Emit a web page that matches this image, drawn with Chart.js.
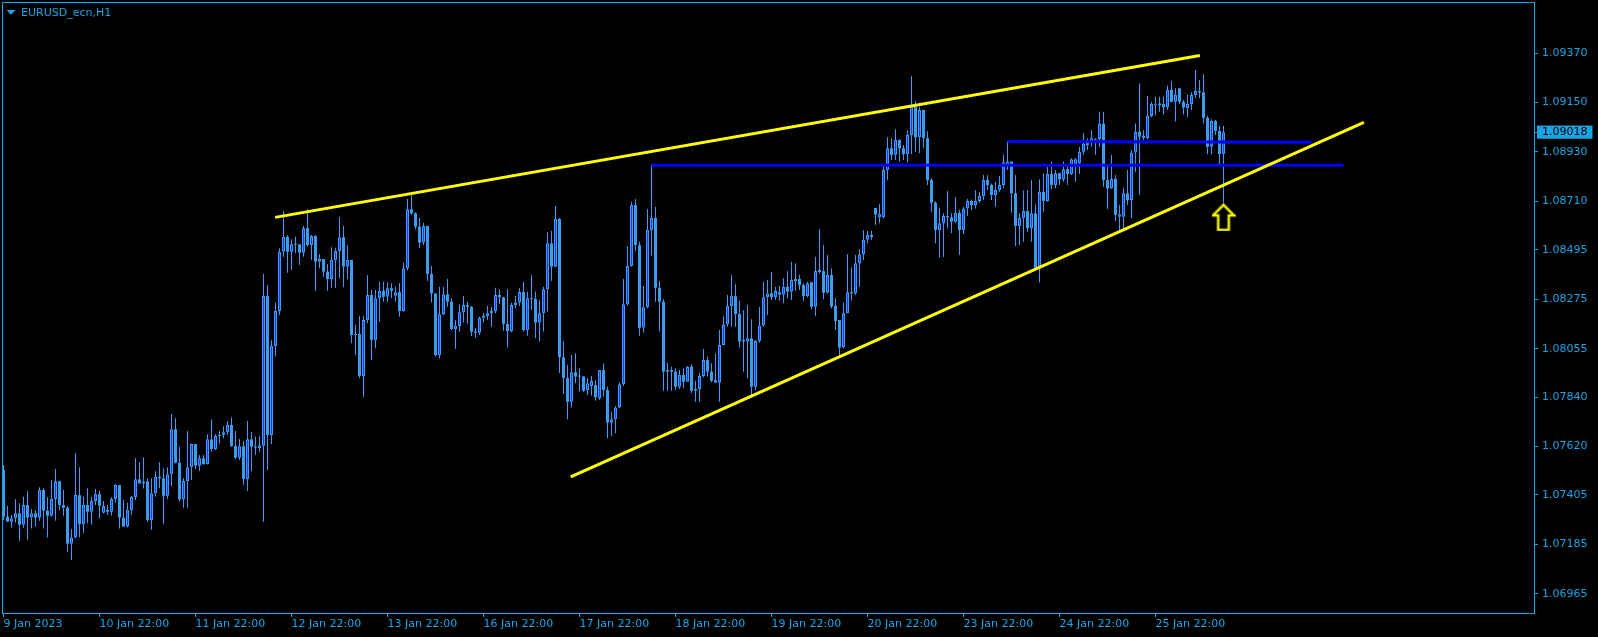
<!DOCTYPE html>
<html><head><meta charset="utf-8">
<style>
html,body{margin:0;padding:0;background:#000;overflow:hidden;}
#wrap{position:relative;width:1598px;height:637px;background:#000;}
</style>
<script src="https://cdn.jsdelivr.net/npm/chart.js@4/dist/chart.umd.min.js"></script>
</head><body>
<div id="wrap"><canvas id="c"></canvas></div>
<script>
// ---- DATA (EURUSD_ecn H1) ----
const open = [1.07516,1.07308,1.07286,1.07301,1.07323,1.07272,1.07360,1.07304,1.07323,1.07304,
1.07427,1.07335,1.07312,1.07387,1.07466,1.07360,1.07348,1.07188,1.07216,1.07404,
1.07274,1.07360,1.07330,1.07378,1.07408,1.07326,1.07338,1.07330,1.07387,1.07449,
1.07304,1.07264,1.07338,1.07395,1.07474,1.07456,1.07465,1.07293,1.07412,1.07486,
1.07479,1.07401,1.07497,1.07697,1.07548,1.07385,1.07467,1.07528,1.07631,1.07535,
1.07568,1.07541,1.07652,1.07609,1.07667,1.07671,1.07683,1.07716,1.07622,1.07570,
1.07621,1.07476,1.07652,1.07619,1.07613,1.07624,1.08289,1.07671,1.08067,1.08223,
1.08486,1.08552,1.08486,1.08519,1.08519,1.08482,1.08591,1.08516,1.08556,1.08442,
1.08454,1.08398,1.08365,1.08450,1.08490,1.08551,1.08420,1.08450,1.08116,1.08121,
1.07934,1.08183,1.08294,1.08094,1.08279,1.08312,1.08286,1.08324,1.08291,1.08306,
1.08223,1.08413,1.08675,1.08657,1.08598,1.08527,1.08601,1.08387,1.08301,1.08027,
1.08208,1.08297,1.08264,1.08143,1.08156,1.08217,1.08249,1.08242,1.08131,1.08126,
1.08193,1.08200,1.08213,1.08223,1.08294,1.08284,1.08165,1.08134,1.08249,1.08260,
1.08307,1.08138,1.08279,1.08276,1.08171,1.08213,1.08319,1.08524,1.08420,1.08632,
1.08017,1.07924,1.07819,1.07950,1.07934,1.07931,1.07871,1.07889,1.07893,1.07834,
1.07960,1.07871,1.07726,1.07741,1.07794,1.07897,1.08253,1.08423,1.08694,1.08516,
1.08148,1.08239,1.08583,1.08636,1.08326,1.08264,1.07953,1.07953,1.07953,1.07886,
1.07938,1.07908,1.07975,1.07868,1.07876,1.07934,1.08005,1.07953,1.07904,1.07904,
1.08072,1.08164,1.08245,1.08289,1.08209,1.08094,1.08087,1.08101,1.07886,1.08089,
1.08158,1.08284,1.08301,1.08284,1.08306,1.08295,1.08331,1.08309,1.08356,1.08365,
1.08338,1.08289,1.08350,1.08242,1.08405,1.08400,1.08304,1.08383,1.08245,1.08183,
1.08060,1.08213,1.08306,1.08301,1.08435,1.08475,1.08539,1.08561,1.08681,1.08639,
1.08639,1.08850,1.08946,1.08917,1.08983,1.08946,1.08920,1.09005,1.09131,1.08995,
1.09117,1.08991,1.08805,1.08704,1.08583,1.08613,1.08645,1.08639,1.08620,1.08660,
1.08583,1.08679,1.08712,1.08694,1.08712,1.08734,1.08805,1.08783,1.08739,1.08761,
1.08783,1.08872,1.08887,1.08746,1.08601,1.08636,1.08667,1.08591,1.08657,1.08413,
1.08753,1.08712,1.08832,1.08783,1.08835,1.08808,1.08853,1.08832,1.08872,1.08880,
1.08931,1.08973,1.08973,1.08973,1.08987,1.09056,1.08805,1.08768,1.08810,1.08642,
1.08642,1.08746,1.08716,1.08928,1.09020,1.08991,1.08991,1.09090,1.09136,1.09136,
1.09143,1.09129,1.09206,1.09153,1.09213,1.09153,1.09124,1.09143,1.09183,1.09201,
1.09195,1.09082,1.08953,1.09068,1.09023,1.08921];
const high = [1.07538,1.07356,1.07316,1.07387,1.07368,1.07397,1.07422,1.07341,1.07338,1.07439,
1.07434,1.07394,1.07471,1.07520,1.07466,1.07427,1.07356,1.07253,1.07591,1.07528,
1.07397,1.07434,1.07397,1.07431,1.07424,1.07378,1.07360,1.07394,1.07453,1.07449,
1.07382,1.07370,1.07400,1.07568,1.07551,1.07572,1.07479,1.07479,1.07511,1.07550,
1.07523,1.07528,1.07765,1.07746,1.07619,1.07479,1.07689,1.07634,1.07631,1.07582,
1.07582,1.07675,1.07741,1.07675,1.07689,1.07710,1.07734,1.07750,1.07689,1.07654,
1.07645,1.07734,1.07686,1.07664,1.07667,1.08387,1.08338,1.08094,1.08260,1.08502,
1.08667,1.08561,1.08542,1.08553,1.08519,1.08601,1.08675,1.08561,1.08561,1.08476,
1.08454,1.08432,1.08506,1.08504,1.08641,1.08601,1.08516,1.08450,1.08161,1.08200,
1.08200,1.08383,1.08316,1.08316,1.08353,1.08353,1.08349,1.08346,1.08331,1.08346,
1.08438,1.08721,1.08749,1.08662,1.08636,1.08614,1.08601,1.08423,1.08301,1.08331,
1.08331,1.08365,1.08279,1.08183,1.08253,1.08289,1.08264,1.08245,1.08148,1.08197,
1.08215,1.08245,1.08242,1.08326,1.08319,1.08286,1.08319,1.08260,1.08289,1.08324,
1.08353,1.08309,1.08383,1.08309,1.08272,1.08331,1.08573,1.08579,1.08690,1.08636,
1.08089,1.07983,1.08027,1.08035,1.07968,1.07934,1.07924,1.07934,1.07916,1.07960,
1.07990,1.07886,1.07775,1.07800,1.07906,1.08365,1.08512,1.08709,1.08721,1.08531,
1.08334,1.08676,1.08871,1.08686,1.08356,1.08275,1.07993,1.07975,1.07968,1.07960,
1.07968,1.07978,1.07986,1.07913,1.07948,1.08054,1.08020,1.07990,1.08035,1.08138,
1.08200,1.08294,1.08383,1.08343,1.08268,1.08227,1.08249,1.08186,1.08094,1.08242,
1.08353,1.08361,1.08396,1.08331,1.08334,1.08368,1.08401,1.08442,1.08435,1.08383,
1.08346,1.08353,1.08353,1.08464,1.08587,1.08516,1.08472,1.08413,1.08279,1.08183,
1.08260,1.08476,1.08417,1.08472,1.08498,1.08583,1.08580,1.08579,1.08681,1.08698,
1.08864,1.08995,1.08991,1.09031,1.08987,1.08961,1.09027,1.09268,1.09155,1.09131,
1.09117,1.09023,1.08813,1.08711,1.08682,1.08657,1.08756,1.08657,1.08728,1.08672,
1.08686,1.08721,1.08719,1.08761,1.08753,1.08828,1.08828,1.08790,1.08798,1.08823,
1.08917,1.08977,1.08887,1.08828,1.08657,1.08758,1.08761,1.08805,1.08697,1.08809,
1.08835,1.08864,1.08887,1.08850,1.08838,1.08887,1.08872,1.08902,1.08902,1.08953,
1.09014,1.08991,1.09027,1.08991,1.09109,1.09109,1.08869,1.08917,1.08828,1.08694,
1.08771,1.08850,1.08939,1.09056,1.09235,1.09027,1.09180,1.09153,1.09175,1.09175,
1.09175,1.09225,1.09246,1.09213,1.09213,1.09161,1.09186,1.09195,1.09294,1.09250,
1.09275,1.09090,1.09075,1.09072,1.09047,1.09047];
const low = [1.07293,1.07284,1.07259,1.07281,1.07200,1.07259,1.07204,1.07256,1.07264,1.07290,
1.07256,1.07215,1.07308,1.07290,1.07335,1.07312,1.07152,1.07115,1.07212,1.07216,
1.07236,1.07278,1.07272,1.07360,1.07301,1.07323,1.07316,1.07312,1.07370,1.07255,
1.07264,1.07261,1.07316,1.07382,1.07456,1.07433,1.07286,1.07249,1.07397,1.07434,
1.07275,1.07387,1.07445,1.07545,1.07375,1.07348,1.07348,1.07471,1.07520,1.07511,
1.07541,1.07541,1.07597,1.07605,1.07634,1.07657,1.07671,1.07619,1.07565,1.07560,
1.07449,1.07422,1.07511,1.07582,1.07597,1.07286,1.07516,1.07631,1.08020,1.08205,
1.08463,1.08393,1.08405,1.08479,1.08427,1.08464,1.08509,1.08450,1.08313,1.08413,
1.08375,1.08313,1.08326,1.08326,1.08368,1.08328,1.08364,1.08079,1.08027,1.07924,
1.07840,1.08168,1.08005,1.08057,1.08175,1.08264,1.08264,1.08279,1.08264,1.08197,
1.08220,1.08405,1.08650,1.08586,1.08502,1.08516,1.08356,1.08260,1.08020,1.08012,
1.08205,1.08242,1.08138,1.08054,1.08131,1.08171,1.08165,1.08112,1.08104,1.08116,
1.08171,1.08183,1.08153,1.08213,1.08254,1.08135,1.08060,1.08128,1.08235,1.08245,
1.08131,1.08113,1.08227,1.08101,1.08087,1.08131,1.08220,1.08356,1.08417,1.07946,
1.07854,1.07741,1.07793,1.07901,1.07864,1.07864,1.07849,1.07846,1.07824,1.07827,
1.07842,1.07657,1.07667,1.07679,1.07790,1.07889,1.08246,1.08420,1.08490,1.08113,
1.08126,1.08235,1.08469,1.08264,1.08131,1.07868,1.07868,1.07868,1.07871,1.07876,
1.07879,1.07908,1.07857,1.07819,1.07819,1.07928,1.07931,1.07906,1.07901,1.07819,
1.08070,1.08153,1.08153,1.08153,1.08061,1.07953,1.07924,1.07849,1.07871,1.08082,
1.08153,1.08205,1.08272,1.08272,1.08268,1.08257,1.08279,1.08272,1.08313,1.08316,
1.08268,1.08284,1.08230,1.08200,1.08390,1.08275,1.08301,1.08235,1.08138,1.08020,
1.08057,1.08213,1.08268,1.08294,1.08331,1.08450,1.08524,1.08539,1.08605,1.08613,
1.08636,1.08805,1.08894,1.08894,1.08887,1.08894,1.08883,1.08921,1.08930,1.08924,
1.08946,1.08783,1.08664,1.08524,1.08461,1.08464,1.08591,1.08568,1.08614,1.08472,
1.08565,1.08645,1.08672,1.08679,1.08704,1.08716,1.08761,1.08716,1.08686,1.08753,
1.08768,1.08850,1.08660,1.08512,1.08516,1.08531,1.08575,1.08531,1.08405,1.08349,
1.08664,1.08708,1.08764,1.08768,1.08783,1.08798,1.08783,1.08828,1.08798,1.08832,
1.08917,1.08939,1.08953,1.08917,1.08953,1.08775,1.08676,1.08765,1.08623,1.08583,
1.08583,1.08694,1.08636,1.08842,1.08739,1.08983,1.08987,1.09084,1.09094,1.09109,
1.09097,1.09117,1.09151,1.09065,1.09142,1.09097,1.09084,1.09117,1.09169,1.09169,
1.09056,1.08920,1.08920,1.09005,1.08872,1.08704];
const close = [1.07308,1.07286,1.07301,1.07323,1.07272,1.07360,1.07304,1.07323,1.07304,1.07427,
1.07335,1.07312,1.07387,1.07466,1.07360,1.07348,1.07188,1.07216,1.07404,1.07274,
1.07360,1.07330,1.07378,1.07408,1.07357,1.07356,1.07330,1.07387,1.07449,1.07304,
1.07264,1.07338,1.07395,1.07474,1.07456,1.07465,1.07293,1.07412,1.07486,1.07479,
1.07401,1.07497,1.07697,1.07548,1.07385,1.07467,1.07528,1.07631,1.07535,1.07568,
1.07541,1.07652,1.07609,1.07667,1.07671,1.07683,1.07716,1.07622,1.07570,1.07621,
1.07476,1.07652,1.07619,1.07615,1.07626,1.08289,1.07671,1.08067,1.08223,1.08486,
1.08552,1.08486,1.08519,1.08518,1.08482,1.08591,1.08516,1.08556,1.08442,1.08454,
1.08398,1.08365,1.08450,1.08490,1.08551,1.08420,1.08450,1.08116,1.08121,1.07934,
1.08183,1.08294,1.08094,1.08279,1.08312,1.08286,1.08324,1.08313,1.08306,1.08223,
1.08413,1.08675,1.08657,1.08598,1.08527,1.08601,1.08387,1.08301,1.08027,1.08208,
1.08297,1.08264,1.08143,1.08156,1.08217,1.08249,1.08242,1.08131,1.08126,1.08193,
1.08200,1.08213,1.08223,1.08294,1.08284,1.08165,1.08134,1.08249,1.08260,1.08307,
1.08138,1.08279,1.08276,1.08171,1.08213,1.08319,1.08524,1.08420,1.08632,1.08017,
1.07924,1.07819,1.07950,1.07931,1.07931,1.07868,1.07901,1.07911,1.07839,1.07960,
1.07871,1.07726,1.07741,1.07794,1.07897,1.08253,1.08423,1.08694,1.08516,1.08148,
1.08239,1.08583,1.08636,1.08326,1.08264,1.07953,1.07960,1.07960,1.07886,1.07938,
1.07908,1.07975,1.07868,1.07876,1.07934,1.08005,1.07953,1.07913,1.07916,1.08072,
1.08164,1.08245,1.08289,1.08209,1.08087,1.08087,1.08101,1.07886,1.08089,1.08158,
1.08284,1.08301,1.08284,1.08312,1.08295,1.08331,1.08309,1.08361,1.08365,1.08338,
1.08289,1.08346,1.08242,1.08401,1.08396,1.08304,1.08383,1.08242,1.08178,1.08060,
1.08213,1.08306,1.08301,1.08435,1.08475,1.08539,1.08561,1.08551,1.08651,1.08654,
1.08850,1.08946,1.08917,1.08983,1.08946,1.08920,1.09005,1.09131,1.08995,1.09117,
1.08991,1.08805,1.08704,1.08583,1.08613,1.08645,1.08639,1.08620,1.08660,1.08583,
1.08679,1.08712,1.08694,1.08712,1.08734,1.08805,1.08783,1.08739,1.08761,1.08783,
1.08884,1.08887,1.08746,1.08601,1.08636,1.08667,1.08591,1.08657,1.08413,1.08753,
1.08712,1.08832,1.08783,1.08835,1.08808,1.08853,1.08832,1.08897,1.08897,1.08931,
1.08967,1.08961,1.08991,1.08987,1.09056,1.08805,1.08768,1.08810,1.08650,1.08653,
1.08746,1.08716,1.08928,1.09020,1.08998,1.09002,1.09090,1.09143,1.09142,1.09146,
1.09129,1.09206,1.09153,1.09186,1.09153,1.09127,1.09143,1.09183,1.09201,1.09195,
1.09082,1.08953,1.09068,1.09023,1.08921,1.09018];

const xTickBars   = [0,24,48,72,96,120,144,168,192,216,240,264,288];
const xTickLabels = ['9 Jan 2023','10 Jan 22:00','11 Jan 22:00','12 Jan 22:00','13 Jan 22:00','16 Jan 22:00',
                     '17 Jan 22:00','18 Jan 22:00','19 Jan 22:00','20 Jan 22:00','23 Jan 22:00','24 Jan 22:00','25 Jan 22:00'];
const yTickValues = [1.09370,1.09150,1.08930,1.08710,1.08495,1.08275,1.08055,1.07840,1.07620,1.07405,1.07185,1.06965];
const lastPrice = 1.09018;
const symbolTitle = 'EURUSD_ecn,H1';

// drawn objects (bar index, price)
const upperTrendX = [67.9, 299.1],  upperTrendY = [1.08639, 1.09359];
const lowerTrendX = [141.8, 340.1], lowerTrendY = [1.07485, 1.09061];
const levelAX = [162, 335], levelAY = [1.08871, 1.08871];
const levelBX = [251, 327], levelBY = [1.08977, 1.08973];
const arrowX = [305], arrowY = [1.08639];

// ---- STYLE ----
const FG = '#19a4e6';
const CANDLE = '#3d9cf2';
const BULL_IN = '#1a3cff';
const FONT = 'DejaVu Sans';

const wickData = open.map((o,i)=>({x:i, y:[low[i], high[i]]}));
const bullData = [], bearData = [];
open.forEach((o,i)=>{ const c = close[i]; if (c >= o) bullData.push({x:i,y:[o,c]}); else bearData.push({x:i,y:[c,o]}); });
const pts = (xs, ys) => xs.map((x,i)=>({x, y:ys[i]}));

function makeArrow(){
  const c = document.createElement('canvas'); c.width = 24; c.height = 28;
  const g = c.getContext('2d');
  g.beginPath();
  g.moveTo(12,1.5); g.lineTo(22.5,12); g.lineTo(17.3,12); g.lineTo(17.3,26.5);
  g.lineTo(6.7,26.5); g.lineTo(6.7,12); g.lineTo(1.5,12); g.closePath();
  g.fillStyle = '#000'; g.fill();
  g.lineJoin = 'miter';
  g.lineWidth = 3.2; g.strokeStyle = '#5a5a10'; g.stroke();
  g.lineWidth = 2; g.strokeStyle = '#ffff00'; g.stroke();
  return c;
}

const framePlugin = {
  id: 'frame',
  beforeDraw(chart){ const {ctx,width,height} = chart; ctx.save(); ctx.fillStyle='#000'; ctx.fillRect(0,0,width,height); ctx.restore(); },
  afterDraw(chart){
    const {ctx, chartArea:a} = chart;
    ctx.save();
    ctx.strokeStyle = FG; ctx.lineWidth = 1;
    ctx.strokeRect(a.left+0.5, a.top+0.5, a.right-a.left, a.bottom-a.top);
    ctx.fillStyle = FG;
    ctx.beginPath(); ctx.moveTo(6.5,10); ctx.lineTo(15.5,10); ctx.lineTo(11,14.8); ctx.closePath(); ctx.fill();
    ctx.font = '11px "' + FONT + '"'; ctx.textBaseline = 'alphabetic'; ctx.textAlign = 'left';
    ctx.fillText(symbolTitle, 21, 16);
    ctx.restore();
  }
};

const X_MIN = -0.375, X_MAX = -0.375 + 1532/4;
const Y_MIN = 1.068797, Y_MAX = 1.095968;

new Chart(document.getElementById('c'), {
  type: 'bar',
  data: {
    datasets: [
      { type:'scatter', data: pts(arrowX, arrowY), pointStyle: makeArrow(), pointRadius: 10, pointHoverRadius: 10, clip: false },
      { type:'line', data: pts(upperTrendX, upperTrendY), borderColor:'#ffff00', borderWidth:3, pointRadius:0, tension:0 },
      { type:'line', data: pts(lowerTrendX, lowerTrendY), borderColor:'#ffff00', borderWidth:3, pointRadius:0, tension:0 },
      { type:'line', data: pts(levelAX, levelAY), borderColor:'#0000ff', borderWidth:3, pointRadius:0, tension:0 },
      { type:'line', data: pts(levelBX, levelBY), borderColor:'#0000ff', borderWidth:3, pointRadius:0, tension:0 },
      { data: bullData, backgroundColor: BULL_IN, borderColor: CANDLE, borderWidth: 1, borderSkipped:false,
        barThickness: 3, grouped:false, inflateAmount:0, minBarLength:1 },
      { data: bearData, backgroundColor: CANDLE, borderWidth: 0, borderSkipped:false,
        barThickness: 3, grouped:false, inflateAmount:0, minBarLength:1 },
      { data: wickData, backgroundColor: CANDLE, borderWidth: 0, borderSkipped:false,
        barThickness: 1, grouped:false, inflateAmount:0 }
    ]
  },
  options: {
    responsive: true, maintainAspectRatio: false, animation: false, devicePixelRatio: 1,
    events: [],
    layout: { autoPadding: false, padding: { left: 2, top: 2, right: 0, bottom: 0 } },
    plugins: { legend: { display:false }, tooltip: { enabled:false }, title: { display:false } },
    scales: {
      x: {
        type: 'linear', position: 'bottom', min: X_MIN, max: X_MAX, offset: false, bounds: 'data',
        afterBuildTicks: s => { s.ticks = xTickBars.map(v => ({value: v})); },
        afterFit: s => { s.height = 24; s.paddingLeft = 0; s.paddingRight = 0; s.paddingTop = 0; s.paddingBottom = 0; },
        ticks: { autoSkip:false, maxRotation:0, minRotation:0, align:'start', color: FG, padding: 1,
                 font: { family: FONT, size: 11 },
                 callback: v => xTickLabels[xTickBars.indexOf(v)] },
        grid: { display:true, drawOnChartArea:false, drawTicks:true, tickLength:4, color: FG, offset:false },
        border: { display:false }
      },
      y: {
        type: 'linear', position: 'right', min: Y_MIN, max: Y_MAX, beginAtZero:false, stacked:false, bounds:'data',
        afterBuildTicks: s => { s.ticks = yTickValues.concat([lastPrice]).map(v => ({value: v})); },
        afterFit: s => { s.width = 64; s.paddingLeft = 0; s.paddingRight = 0; s.paddingTop = 0; s.paddingBottom = 0; },
        ticks: { autoSkip:false, padding: 4, font: { family: FONT, size: 11 },
                 color: ctx => (ctx.tick && ctx.tick.value === lastPrice) ? '#000' : FG,
                 showLabelBackdrop: ctx => !!(ctx.tick && ctx.tick.value === lastPrice),
                 backdropColor: FG, backdropPadding: { top: 0, bottom: 0, left: 5, right: 5 },
                 callback: v => Number(v).toFixed(5) },
        grid: { display:true, drawOnChartArea:false, drawTicks:true, tickLength:4, color: FG },
        border: { display:false }
      }
    }
  },
  plugins: [framePlugin]
});
</script>
</body></html>
